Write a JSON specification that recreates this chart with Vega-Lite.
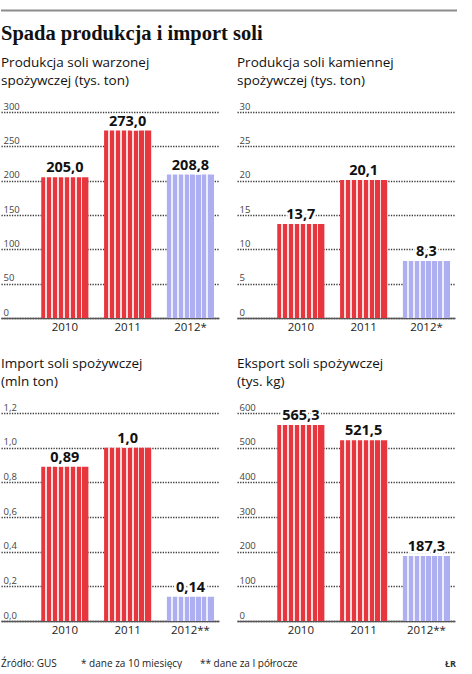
{
  "$schema": "https://vega.github.io/schema/vega-lite/v6.json",
  "padding": {"left": 0, "top": 9, "right": 0, "bottom": 0},
  "background": "white",
  "datasets": {
    "salt": [
      {"panel": "warzona", "year": "2010", "value": 205.0, "label": "205,0"},
      {"panel": "warzona", "year": "2011", "value": 273.0, "label": "273,0"},
      {"panel": "warzona", "year": "2012*", "value": 208.8, "label": "208,8"},
      {"panel": "kamienna", "year": "2010", "value": 13.7, "label": "13,7"},
      {"panel": "kamienna", "year": "2011", "value": 20.1, "label": "20,1"},
      {"panel": "kamienna", "year": "2012*", "value": 8.3, "label": "8,3"},
      {"panel": "import", "year": "2010", "value": 0.89, "label": "0,89"},
      {"panel": "import", "year": "2011", "value": 1.0, "label": "1,0"},
      {"panel": "import", "year": "2012**", "value": 0.14, "label": "0,14"},
      {"panel": "eksport", "year": "2010", "value": 565.3, "label": "565,3"},
      {"panel": "eksport", "year": "2011", "value": 521.5, "label": "521,5"},
      {"panel": "eksport", "year": "2012**", "value": 187.3, "label": "187,3"}
    ],
    "footer": [
      {"pos": 0, "text": "Źródło: GUS"},
      {"pos": 80, "text": "* dane za 10 miesięcy"},
      {"pos": 199, "text": "** dane za I półrocze"}
    ],
    "sign": [
      {"pos": 455, "text": "ŁR"}
    ]
  },
  "vconcat": [
    {
      "width": 456,
      "height": 1,
      "data": {"values": [{"a": 0, "b": 1}]},
      "mark": {"type": "rule", "color": "#8c8c8c", "strokeWidth": 2},
      "encoding": {
        "x": {"field": "a", "type": "quantitative", "axis": null, "scale": {"domain": [0, 1]}},
        "x2": {"field": "b"}
      }
    },
    {
      "spacing": 23,
      "vconcat": [
        {
          "title": {
            "text": "Spada produkcja i import soli",
            "anchor": "start",
            "font": "Liberation Serif",
            "fontSize": 20.5,
            "fontWeight": "bold",
            "color": "#111",
            "offset": 11
          },
          "spacing": 18,
          "hconcat": [
            {
              "width": 218,
              "height": 206,
              "title": {"text": ["Produkcja soli warzonej", "spożywczej (tys. ton)"]},
              "data": {"name": "salt"},
              "transform": [{"filter": "datum.panel == 'warzona'"}],
              "encoding": {
                "x": {"field": "year", "type": "nominal", "sort": null, "scale": {"paddingInner": 0.25, "paddingOuter": 0.36, "align": 0.89}},
                "y": {"field": "value", "type": "quantitative", "scale": {"domain": [0, 300]}, "axis": {"values": [0, 50, 100, 150, 200, 250, 300]}}
              },
              "layer": [
                {
                  "mark": {"type": "bar"},
                  "encoding": {
                    "color": {
                      "condition": {"test": "indexof(datum.year, '2012') == 0", "value": {"gradient": "linear", "x1": 0, "y1": 0, "x2": 1, "y2": 0, "stops": [
                        {"offset": 0, "color": "#adaff0"}, {"offset": 0.09, "color": "#adaff0"}, {"offset": 0.09, "color": "#ececfd"}, {"offset": 0.125, "color": "#ececfd"},
                        {"offset": 0.125, "color": "#adaff0"}, {"offset": 0.215, "color": "#adaff0"}, {"offset": 0.215, "color": "#ececfd"}, {"offset": 0.25, "color": "#ececfd"},
                        {"offset": 0.25, "color": "#adaff0"}, {"offset": 0.34, "color": "#adaff0"}, {"offset": 0.34, "color": "#ececfd"}, {"offset": 0.375, "color": "#ececfd"},
                        {"offset": 0.375, "color": "#adaff0"}, {"offset": 0.465, "color": "#adaff0"}, {"offset": 0.465, "color": "#ececfd"}, {"offset": 0.5, "color": "#ececfd"},
                        {"offset": 0.5, "color": "#adaff0"}, {"offset": 0.59, "color": "#adaff0"}, {"offset": 0.59, "color": "#ececfd"}, {"offset": 0.625, "color": "#ececfd"},
                        {"offset": 0.625, "color": "#adaff0"}, {"offset": 0.715, "color": "#adaff0"}, {"offset": 0.715, "color": "#ececfd"}, {"offset": 0.75, "color": "#ececfd"},
                        {"offset": 0.75, "color": "#adaff0"}, {"offset": 0.84, "color": "#adaff0"}, {"offset": 0.84, "color": "#ececfd"}, {"offset": 0.875, "color": "#ececfd"},
                        {"offset": 0.875, "color": "#adaff0"}, {"offset": 1, "color": "#adaff0"}
                      ]}},
                      "value": {"gradient": "linear", "x1": 0, "y1": 0, "x2": 1, "y2": 0, "stops": [
                        {"offset": 0, "color": "#e8363f"}, {"offset": 0.09, "color": "#e8363f"}, {"offset": 0.09, "color": "#fbdcdd"}, {"offset": 0.125, "color": "#fbdcdd"},
                        {"offset": 0.125, "color": "#e8363f"}, {"offset": 0.215, "color": "#e8363f"}, {"offset": 0.215, "color": "#fbdcdd"}, {"offset": 0.25, "color": "#fbdcdd"},
                        {"offset": 0.25, "color": "#e8363f"}, {"offset": 0.34, "color": "#e8363f"}, {"offset": 0.34, "color": "#fbdcdd"}, {"offset": 0.375, "color": "#fbdcdd"},
                        {"offset": 0.375, "color": "#e8363f"}, {"offset": 0.465, "color": "#e8363f"}, {"offset": 0.465, "color": "#fbdcdd"}, {"offset": 0.5, "color": "#fbdcdd"},
                        {"offset": 0.5, "color": "#e8363f"}, {"offset": 0.59, "color": "#e8363f"}, {"offset": 0.59, "color": "#fbdcdd"}, {"offset": 0.625, "color": "#fbdcdd"},
                        {"offset": 0.625, "color": "#e8363f"}, {"offset": 0.715, "color": "#e8363f"}, {"offset": 0.715, "color": "#fbdcdd"}, {"offset": 0.75, "color": "#fbdcdd"},
                        {"offset": 0.75, "color": "#e8363f"}, {"offset": 0.84, "color": "#e8363f"}, {"offset": 0.84, "color": "#fbdcdd"}, {"offset": 0.875, "color": "#fbdcdd"},
                        {"offset": 0.875, "color": "#e8363f"}, {"offset": 1, "color": "#e8363f"}
                      ]}
                    }
                  }
                },
                {
                  "mark": {"type": "text", "dy": -5, "baseline": "alphabetic", "fontSize": 14.5, "fontWeight": "bold", "color": "white", "stroke": "white", "strokeWidth": 5},
                  "encoding": {"text": {"field": "label"}}
                },
                {
                  "mark": {"type": "text", "dy": -5, "baseline": "alphabetic", "fontSize": 14.5, "fontWeight": "bold", "color": "#111"},
                  "encoding": {"text": {"field": "label"}}
                }
              ]
            },
            {
              "width": 218,
              "height": 206,
              "title": {"text": ["Produkcja soli kamiennej", "spożywczej (tys. ton)"]},
              "data": {"name": "salt"},
              "transform": [{"filter": "datum.panel == 'kamienna'"}],
              "encoding": {
                "x": {"field": "year", "type": "nominal", "sort": null, "scale": {"paddingInner": 0.25, "paddingOuter": 0.36, "align": 0.89}},
                "y": {"field": "value", "type": "quantitative", "scale": {"domain": [0, 30]}, "axis": {"values": [0, 5, 10, 15, 20, 25, 30]}}
              },
              "layer": [
                {
                  "mark": {"type": "bar"},
                  "encoding": {
                    "color": {
                      "condition": {"test": "indexof(datum.year, '2012') == 0", "value": {"gradient": "linear", "x1": 0, "y1": 0, "x2": 1, "y2": 0, "stops": [
                        {"offset": 0, "color": "#adaff0"}, {"offset": 0.09, "color": "#adaff0"}, {"offset": 0.09, "color": "#ececfd"}, {"offset": 0.125, "color": "#ececfd"},
                        {"offset": 0.125, "color": "#adaff0"}, {"offset": 0.215, "color": "#adaff0"}, {"offset": 0.215, "color": "#ececfd"}, {"offset": 0.25, "color": "#ececfd"},
                        {"offset": 0.25, "color": "#adaff0"}, {"offset": 0.34, "color": "#adaff0"}, {"offset": 0.34, "color": "#ececfd"}, {"offset": 0.375, "color": "#ececfd"},
                        {"offset": 0.375, "color": "#adaff0"}, {"offset": 0.465, "color": "#adaff0"}, {"offset": 0.465, "color": "#ececfd"}, {"offset": 0.5, "color": "#ececfd"},
                        {"offset": 0.5, "color": "#adaff0"}, {"offset": 0.59, "color": "#adaff0"}, {"offset": 0.59, "color": "#ececfd"}, {"offset": 0.625, "color": "#ececfd"},
                        {"offset": 0.625, "color": "#adaff0"}, {"offset": 0.715, "color": "#adaff0"}, {"offset": 0.715, "color": "#ececfd"}, {"offset": 0.75, "color": "#ececfd"},
                        {"offset": 0.75, "color": "#adaff0"}, {"offset": 0.84, "color": "#adaff0"}, {"offset": 0.84, "color": "#ececfd"}, {"offset": 0.875, "color": "#ececfd"},
                        {"offset": 0.875, "color": "#adaff0"}, {"offset": 1, "color": "#adaff0"}
                      ]}},
                      "value": {"gradient": "linear", "x1": 0, "y1": 0, "x2": 1, "y2": 0, "stops": [
                        {"offset": 0, "color": "#e8363f"}, {"offset": 0.09, "color": "#e8363f"}, {"offset": 0.09, "color": "#fbdcdd"}, {"offset": 0.125, "color": "#fbdcdd"},
                        {"offset": 0.125, "color": "#e8363f"}, {"offset": 0.215, "color": "#e8363f"}, {"offset": 0.215, "color": "#fbdcdd"}, {"offset": 0.25, "color": "#fbdcdd"},
                        {"offset": 0.25, "color": "#e8363f"}, {"offset": 0.34, "color": "#e8363f"}, {"offset": 0.34, "color": "#fbdcdd"}, {"offset": 0.375, "color": "#fbdcdd"},
                        {"offset": 0.375, "color": "#e8363f"}, {"offset": 0.465, "color": "#e8363f"}, {"offset": 0.465, "color": "#fbdcdd"}, {"offset": 0.5, "color": "#fbdcdd"},
                        {"offset": 0.5, "color": "#e8363f"}, {"offset": 0.59, "color": "#e8363f"}, {"offset": 0.59, "color": "#fbdcdd"}, {"offset": 0.625, "color": "#fbdcdd"},
                        {"offset": 0.625, "color": "#e8363f"}, {"offset": 0.715, "color": "#e8363f"}, {"offset": 0.715, "color": "#fbdcdd"}, {"offset": 0.75, "color": "#fbdcdd"},
                        {"offset": 0.75, "color": "#e8363f"}, {"offset": 0.84, "color": "#e8363f"}, {"offset": 0.84, "color": "#fbdcdd"}, {"offset": 0.875, "color": "#fbdcdd"},
                        {"offset": 0.875, "color": "#e8363f"}, {"offset": 1, "color": "#e8363f"}
                      ]}
                    }
                  }
                },
                {
                  "mark": {"type": "text", "dy": -5, "baseline": "alphabetic", "fontSize": 14.5, "fontWeight": "bold", "color": "white", "stroke": "white", "strokeWidth": 5},
                  "encoding": {"text": {"field": "label"}}
                },
                {
                  "mark": {"type": "text", "dy": -5, "baseline": "alphabetic", "fontSize": 14.5, "fontWeight": "bold", "color": "#111"},
                  "encoding": {"text": {"field": "label"}}
                }
              ]
            }
          ]
        },
        {
          "spacing": 18,
          "hconcat": [
            {
              "width": 218,
              "height": 208,
              "title": {"text": ["Import soli spożywczej", "(mln ton)"]},
              "data": {"name": "salt"},
              "transform": [{"filter": "datum.panel == 'import'"}],
              "encoding": {
                "x": {"field": "year", "type": "nominal", "sort": null, "scale": {"paddingInner": 0.25, "paddingOuter": 0.36, "align": 0.89}},
                "y": {"field": "value", "type": "quantitative", "scale": {"domain": [0, 1.2]}, "axis": {"values": [0, 0.2, 0.4, 0.6, 0.8, 1.0, 1.2], "labelExpr": "replace(format(datum.value, '.1f'), '.', ',')"}}
              },
              "layer": [
                {
                  "mark": {"type": "bar"},
                  "encoding": {
                    "color": {
                      "condition": {"test": "indexof(datum.year, '2012') == 0", "value": {"gradient": "linear", "x1": 0, "y1": 0, "x2": 1, "y2": 0, "stops": [
                        {"offset": 0, "color": "#adaff0"}, {"offset": 0.09, "color": "#adaff0"}, {"offset": 0.09, "color": "#ececfd"}, {"offset": 0.125, "color": "#ececfd"},
                        {"offset": 0.125, "color": "#adaff0"}, {"offset": 0.215, "color": "#adaff0"}, {"offset": 0.215, "color": "#ececfd"}, {"offset": 0.25, "color": "#ececfd"},
                        {"offset": 0.25, "color": "#adaff0"}, {"offset": 0.34, "color": "#adaff0"}, {"offset": 0.34, "color": "#ececfd"}, {"offset": 0.375, "color": "#ececfd"},
                        {"offset": 0.375, "color": "#adaff0"}, {"offset": 0.465, "color": "#adaff0"}, {"offset": 0.465, "color": "#ececfd"}, {"offset": 0.5, "color": "#ececfd"},
                        {"offset": 0.5, "color": "#adaff0"}, {"offset": 0.59, "color": "#adaff0"}, {"offset": 0.59, "color": "#ececfd"}, {"offset": 0.625, "color": "#ececfd"},
                        {"offset": 0.625, "color": "#adaff0"}, {"offset": 0.715, "color": "#adaff0"}, {"offset": 0.715, "color": "#ececfd"}, {"offset": 0.75, "color": "#ececfd"},
                        {"offset": 0.75, "color": "#adaff0"}, {"offset": 0.84, "color": "#adaff0"}, {"offset": 0.84, "color": "#ececfd"}, {"offset": 0.875, "color": "#ececfd"},
                        {"offset": 0.875, "color": "#adaff0"}, {"offset": 1, "color": "#adaff0"}
                      ]}},
                      "value": {"gradient": "linear", "x1": 0, "y1": 0, "x2": 1, "y2": 0, "stops": [
                        {"offset": 0, "color": "#e8363f"}, {"offset": 0.09, "color": "#e8363f"}, {"offset": 0.09, "color": "#fbdcdd"}, {"offset": 0.125, "color": "#fbdcdd"},
                        {"offset": 0.125, "color": "#e8363f"}, {"offset": 0.215, "color": "#e8363f"}, {"offset": 0.215, "color": "#fbdcdd"}, {"offset": 0.25, "color": "#fbdcdd"},
                        {"offset": 0.25, "color": "#e8363f"}, {"offset": 0.34, "color": "#e8363f"}, {"offset": 0.34, "color": "#fbdcdd"}, {"offset": 0.375, "color": "#fbdcdd"},
                        {"offset": 0.375, "color": "#e8363f"}, {"offset": 0.465, "color": "#e8363f"}, {"offset": 0.465, "color": "#fbdcdd"}, {"offset": 0.5, "color": "#fbdcdd"},
                        {"offset": 0.5, "color": "#e8363f"}, {"offset": 0.59, "color": "#e8363f"}, {"offset": 0.59, "color": "#fbdcdd"}, {"offset": 0.625, "color": "#fbdcdd"},
                        {"offset": 0.625, "color": "#e8363f"}, {"offset": 0.715, "color": "#e8363f"}, {"offset": 0.715, "color": "#fbdcdd"}, {"offset": 0.75, "color": "#fbdcdd"},
                        {"offset": 0.75, "color": "#e8363f"}, {"offset": 0.84, "color": "#e8363f"}, {"offset": 0.84, "color": "#fbdcdd"}, {"offset": 0.875, "color": "#fbdcdd"},
                        {"offset": 0.875, "color": "#e8363f"}, {"offset": 1, "color": "#e8363f"}
                      ]}
                    }
                  }
                },
                {
                  "mark": {"type": "text", "dy": -5, "baseline": "alphabetic", "fontSize": 14.5, "fontWeight": "bold", "color": "white", "stroke": "white", "strokeWidth": 5},
                  "encoding": {"text": {"field": "label"}}
                },
                {
                  "mark": {"type": "text", "dy": -5, "baseline": "alphabetic", "fontSize": 14.5, "fontWeight": "bold", "color": "#111"},
                  "encoding": {"text": {"field": "label"}}
                }
              ]
            },
            {
              "width": 218,
              "height": 208,
              "title": {"text": ["Eksport soli spożywczej", "(tys. kg)"]},
              "data": {"name": "salt"},
              "transform": [{"filter": "datum.panel == 'eksport'"}],
              "encoding": {
                "x": {"field": "year", "type": "nominal", "sort": null, "scale": {"paddingInner": 0.25, "paddingOuter": 0.36, "align": 0.89}},
                "y": {"field": "value", "type": "quantitative", "scale": {"domain": [0, 600]}, "axis": {"values": [0, 100, 200, 300, 400, 500, 600]}}
              },
              "layer": [
                {
                  "mark": {"type": "bar"},
                  "encoding": {
                    "color": {
                      "condition": {"test": "indexof(datum.year, '2012') == 0", "value": {"gradient": "linear", "x1": 0, "y1": 0, "x2": 1, "y2": 0, "stops": [
                        {"offset": 0, "color": "#adaff0"}, {"offset": 0.09, "color": "#adaff0"}, {"offset": 0.09, "color": "#ececfd"}, {"offset": 0.125, "color": "#ececfd"},
                        {"offset": 0.125, "color": "#adaff0"}, {"offset": 0.215, "color": "#adaff0"}, {"offset": 0.215, "color": "#ececfd"}, {"offset": 0.25, "color": "#ececfd"},
                        {"offset": 0.25, "color": "#adaff0"}, {"offset": 0.34, "color": "#adaff0"}, {"offset": 0.34, "color": "#ececfd"}, {"offset": 0.375, "color": "#ececfd"},
                        {"offset": 0.375, "color": "#adaff0"}, {"offset": 0.465, "color": "#adaff0"}, {"offset": 0.465, "color": "#ececfd"}, {"offset": 0.5, "color": "#ececfd"},
                        {"offset": 0.5, "color": "#adaff0"}, {"offset": 0.59, "color": "#adaff0"}, {"offset": 0.59, "color": "#ececfd"}, {"offset": 0.625, "color": "#ececfd"},
                        {"offset": 0.625, "color": "#adaff0"}, {"offset": 0.715, "color": "#adaff0"}, {"offset": 0.715, "color": "#ececfd"}, {"offset": 0.75, "color": "#ececfd"},
                        {"offset": 0.75, "color": "#adaff0"}, {"offset": 0.84, "color": "#adaff0"}, {"offset": 0.84, "color": "#ececfd"}, {"offset": 0.875, "color": "#ececfd"},
                        {"offset": 0.875, "color": "#adaff0"}, {"offset": 1, "color": "#adaff0"}
                      ]}},
                      "value": {"gradient": "linear", "x1": 0, "y1": 0, "x2": 1, "y2": 0, "stops": [
                        {"offset": 0, "color": "#e8363f"}, {"offset": 0.09, "color": "#e8363f"}, {"offset": 0.09, "color": "#fbdcdd"}, {"offset": 0.125, "color": "#fbdcdd"},
                        {"offset": 0.125, "color": "#e8363f"}, {"offset": 0.215, "color": "#e8363f"}, {"offset": 0.215, "color": "#fbdcdd"}, {"offset": 0.25, "color": "#fbdcdd"},
                        {"offset": 0.25, "color": "#e8363f"}, {"offset": 0.34, "color": "#e8363f"}, {"offset": 0.34, "color": "#fbdcdd"}, {"offset": 0.375, "color": "#fbdcdd"},
                        {"offset": 0.375, "color": "#e8363f"}, {"offset": 0.465, "color": "#e8363f"}, {"offset": 0.465, "color": "#fbdcdd"}, {"offset": 0.5, "color": "#fbdcdd"},
                        {"offset": 0.5, "color": "#e8363f"}, {"offset": 0.59, "color": "#e8363f"}, {"offset": 0.59, "color": "#fbdcdd"}, {"offset": 0.625, "color": "#fbdcdd"},
                        {"offset": 0.625, "color": "#e8363f"}, {"offset": 0.715, "color": "#e8363f"}, {"offset": 0.715, "color": "#fbdcdd"}, {"offset": 0.75, "color": "#fbdcdd"},
                        {"offset": 0.75, "color": "#e8363f"}, {"offset": 0.84, "color": "#e8363f"}, {"offset": 0.84, "color": "#fbdcdd"}, {"offset": 0.875, "color": "#fbdcdd"},
                        {"offset": 0.875, "color": "#e8363f"}, {"offset": 1, "color": "#e8363f"}
                      ]}
                    }
                  }
                },
                {
                  "mark": {"type": "text", "dy": -5, "baseline": "alphabetic", "fontSize": 14.5, "fontWeight": "bold", "color": "white", "stroke": "white", "strokeWidth": 5},
                  "encoding": {"text": {"field": "label"}}
                },
                {
                  "mark": {"type": "text", "dy": -5, "baseline": "alphabetic", "fontSize": 14.5, "fontWeight": "bold", "color": "#111"},
                  "encoding": {"text": {"field": "label"}}
                }
              ]
            }
          ]
        },
        {
          "width": 455,
          "height": 10,
          "layer": [
            {
              "data": {"name": "footer"},
              "mark": {"type": "text", "align": "left", "baseline": "middle", "fontSize": 10, "color": "#222"},
              "encoding": {
                "x": {"field": "pos", "type": "quantitative", "axis": null, "scale": {"domain": [0, 455]}},
                "text": {"field": "text"}
              }
            },
            {
              "data": {"name": "sign"},
              "mark": {"type": "text", "align": "right", "baseline": "middle", "fontSize": 9, "fontWeight": "bold", "color": "#333"},
              "encoding": {
                "x": {"field": "pos", "type": "quantitative", "axis": null, "scale": {"domain": [0, 455]}},
                "text": {"field": "text"}
              }
            }
          ]
        }
      ]
    }
  ],
  "spacing": 12,
  "config": {
    "font": "Open Sans",
    "view": {"stroke": null},
    "title": {"anchor": "start", "fontSize": 13.5, "fontWeight": "normal", "color": "#111", "lineHeight": 18, "offset": 14},
    "axisX": {
      "title": null,
      "ticks": false,
      "labelAngle": 0,
      "labelFontSize": 11.5,
      "labelColor": "#222",
      "labelPadding": 3,
      "domainColor": "#555",
      "domainWidth": 1.5,
      "grid": false
    },
    "axisY": {
      "title": null,
      "domain": false,
      "ticks": false,
      "tickSize": 0,
      "labelAlign": "left",
      "labelBaseline": "bottom",
      "labelPadding": -2,
      "labelOffset": -1,
      "labelFontSize": 9.5,
      "labelColor": "#444",
      "grid": true,
      "gridColor": "#3a3a3a",
      "gridWidth": 1.4,
      "gridDash": [1.3, 1.3]
    }
  }
}
